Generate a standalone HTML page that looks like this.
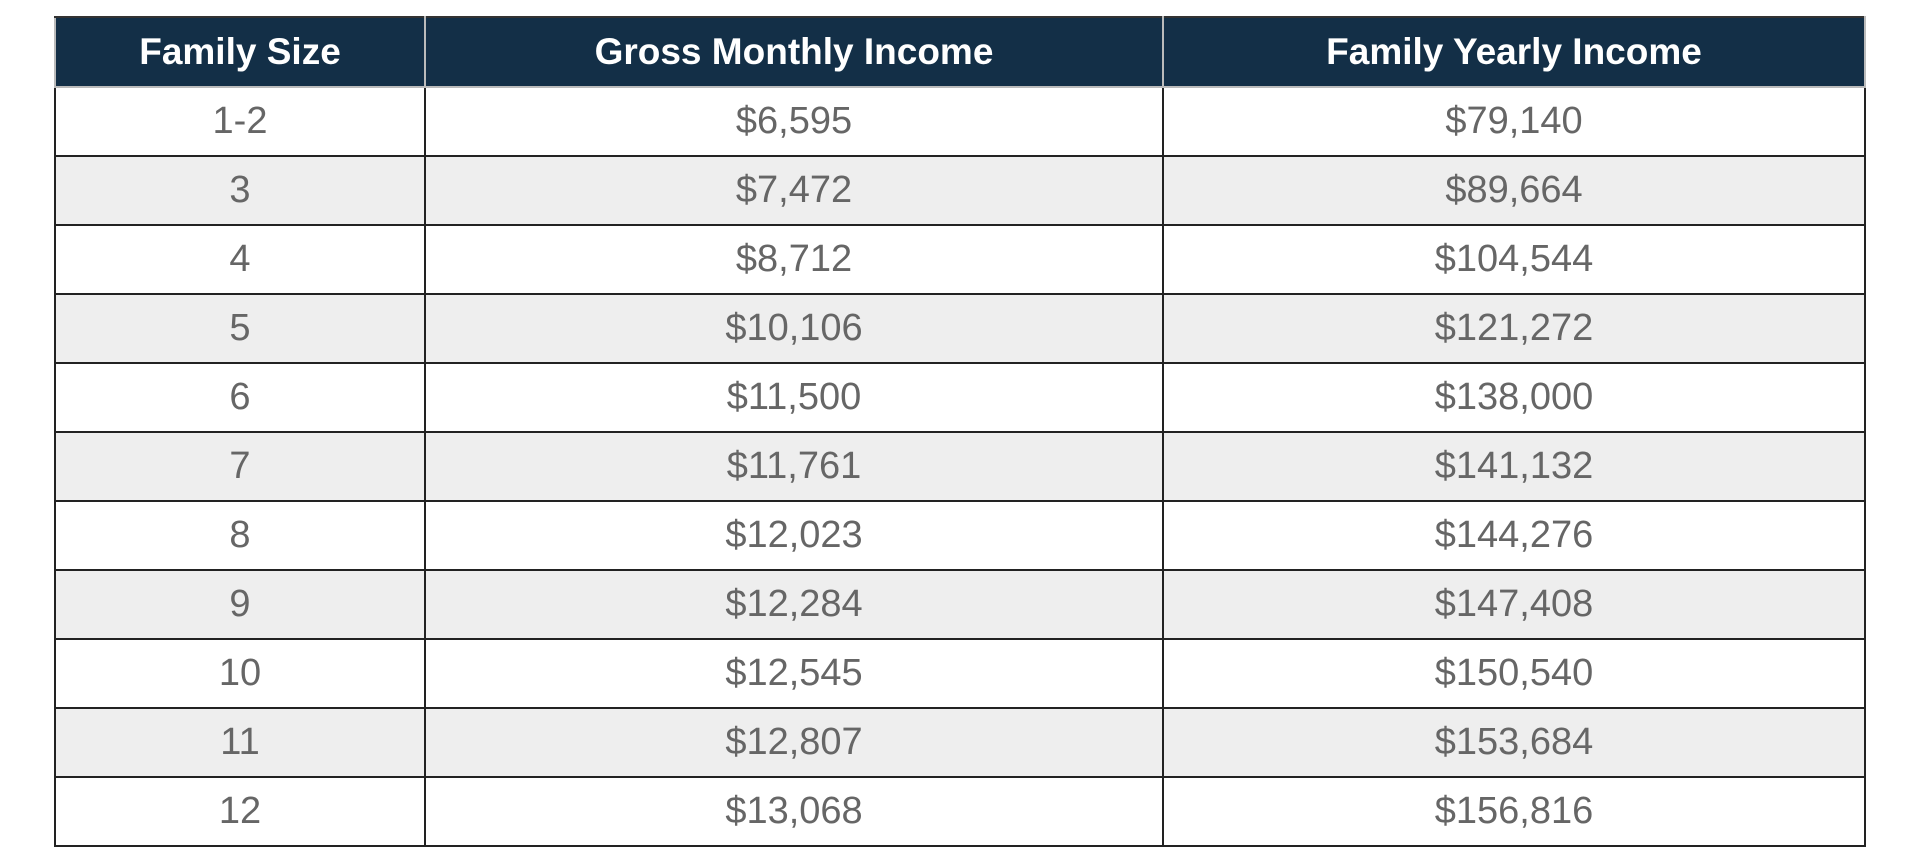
<!DOCTYPE html>
<html><head><meta charset="utf-8"><style>
html,body{margin:0;padding:0;background:#fff;width:1920px;height:847px;overflow:hidden}
table{position:absolute;left:54px;top:16px;width:1810px;border-collapse:collapse;font-family:"Liberation Sans",sans-serif;table-layout:fixed}
th{background:#132f47;color:#fff;font-weight:bold;font-size:37px;height:68px;padding:0;border:2px solid #bbb;border-top:2px solid #333}
td{height:67px;padding:0;text-align:center;color:#666;font-size:38px;border:2px solid #222}
tr.alt td{background:#eee}
</style></head><body>
<table>
<colgroup><col style="width:370px"><col style="width:738px"><col style="width:702px"></colgroup>
<thead><tr>
<th>Family Size</th>
<th>Gross Monthly Income</th>
<th>Family Yearly Income</th></tr></thead>
<tbody id="tb"></tbody></table>
<script>
const sizes=["1-2","3","4","5","6","7","8","9","10","11","12"];
const monthly=["$6,595","$7,472","$8,712","$10,106","$11,500","$11,761","$12,023","$12,284","$12,545","$12,807","$13,068"];
const yearly=["$79,140","$89,664","$104,544","$121,272","$138,000","$141,132","$144,276","$147,408","$150,540","$153,684","$156,816"];
const tb=document.getElementById('tb');
sizes.forEach((s,i)=>{
  const tr=document.createElement('tr');
  
  
  if(i%2) tr.className='alt';
  [[s,'family-size'],[monthly[i],'monthly-income'],[yearly[i],'yearly-income']].forEach(([v,n])=>{
    const td=document.createElement('td');
    
    
    td.textContent=v;tr.appendChild(td);
  });
  tb.appendChild(tr);
});
</script>
</body></html>
